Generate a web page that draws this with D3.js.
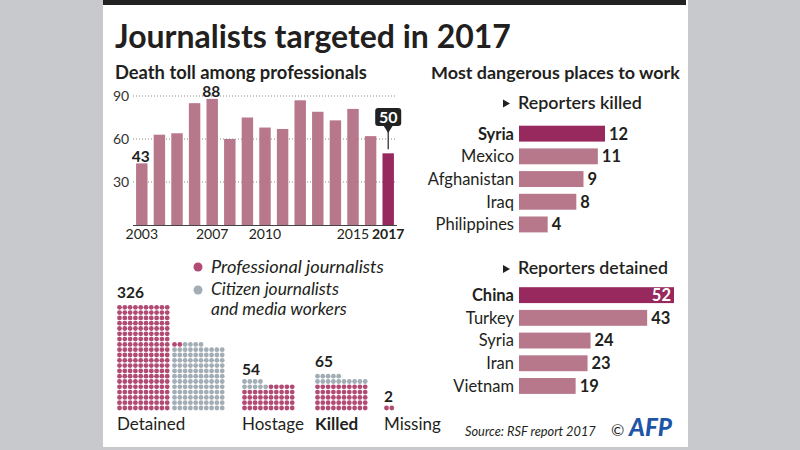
<!DOCTYPE html>
<html><head><meta charset="utf-8">
<script src="https://cdn.jsdelivr.net/npm/d3@7"></script>
<style>
html,body{margin:0;padding:0;background:#c8c9cd;}
svg{display:block;font-family:Lato,"Noto Sans",sans-serif;}
</style></head>
<body>
<svg id="chart" width="800" height="450"></svg>
<script>
// ---------- DATA ----------
const years = [2003,2004,2005,2006,2007,2008,2009,2010,2011,2012,2013,2014,2015,2016,2017];
const deaths = [43,63,64,85,88,60,75,68,67,87,79,73,81,62,50];
const yearTickLabels = [2003,2007,2010,2015,2017];
const deathTicks = [30,60,90];
const labelledYears = [2003,2007];

const killedCountries = ["Syria","Mexico","Afghanistan","Iraq","Philippines"];
const killedValues = [12,11,9,8,4];
const detainedCountries = ["China","Turkey","Syria","Iran","Vietnam"];
const detainedValues = [52,43,24,23,19];

const categories = ["Detained","Hostage","Killed","Missing"];
const professional = [202,45,50,2];
const citizen = [124,9,15,0];
const totals = [326,54,65,2];

// ---------- STYLE ----------
const C_BAR = "#b7788c", C_HI = "#97295e", C_PRO = "#b24b74", C_CIT = "#a2adb5", C_TXT = "#231f20";

const svg = d3.select("#chart");
function fit(sel, w){ const cw = sel.node().getComputedTextLength(); const fs = parseFloat(sel.attr("font-size")); sel.attr("font-size", fs*w/cw); return sel; }

// panel
svg.append("rect").attr("x",103).attr("y",0).attr("width",585).attr("height",447).attr("fill","#fff");
svg.append("rect").attr("x",103).attr("y",0).attr("width",583).attr("height",5).attr("fill","#222");

// titles
fit(svg.append("text").attr("x",115).attr("y",48).attr("font-size",34).attr("font-weight",700).attr("fill",C_TXT).text("Journalists targeted in 2017"),396);
fit(svg.append("text").attr("x",115).attr("y",78.5).attr("font-size",18).attr("font-weight",700).attr("fill",C_TXT).text("Death toll among professionals"),252);
fit(svg.append("text").attr("x",431).attr("y",78.5).attr("font-size",18).attr("font-weight",700).attr("fill",C_TXT).text("Most dangerous places to work"),249);

// ---------- BAR CHART ----------
const x = d3.scaleBand().domain(years).range([133,397]).paddingInner(0.35).paddingOuter(0.175);
const y = d3.scaleLinear().domain([0,90]).range([225,96]);

const grid = svg.append("g");
grid.selectAll("line").data(deathTicks).join("line")
  .attr("x1",133).attr("x2",397).attr("y1",d=>y(d)).attr("y2",d=>y(d))
  .attr("stroke","#8a8a8a").attr("stroke-width",1).attr("stroke-dasharray","1,2");
grid.selectAll("text").data(deathTicks).join("text")
  .attr("x",113).attr("y",d=>y(d)).attr("dy","0.36em").attr("font-size",14).attr("fill","#333").text(d=>d);

svg.append("g").selectAll("rect").data(years).join("rect")
  .attr("x",d=>x(d)).attr("width",x.bandwidth())
  .attr("y",(d,i)=>y(deaths[i])).attr("height",(d,i)=>y(0)-y(deaths[i]))
  .attr("fill",d=>d===2017?C_HI:C_BAR);

svg.append("line").attr("x1",133).attr("x2",397).attr("y1",y(0)+0.5).attr("y2",y(0)+0.5).attr("stroke","#444").attr("stroke-width",1);

svg.append("g").selectAll("text").data(yearTickLabels).join("text")
  .attr("x",d=>x(d)+x.bandwidth()/2).attr("y",239).attr("text-anchor","middle")
  .attr("font-size",14).attr("font-weight",d=>d===2017?700:400).attr("fill",C_TXT).text(d=>d);

svg.append("g").selectAll("text").data(labelledYears).join("text")
  .attr("x",d=>x(d)+x.bandwidth()/2-1).attr("y",d=>y(deaths[years.indexOf(d)])-1.5).attr("text-anchor","middle")
  .attr("font-size",15.5).attr("font-weight",700).attr("fill",C_TXT).text(d=>deaths[years.indexOf(d)]);

// callout for 2017
{
  const last = years.length-1, cx = x(years[last])+x.bandwidth()/2, top = y(deaths[last]);
  const g = svg.append("g");
  g.append("line").attr("x1",cx).attr("x2",cx).attr("y1",118).attr("y2",top-4).attr("stroke","#222").attr("stroke-width",1.2);
  g.append("path").attr("d",`M${cx-5},125 L${cx+5},125 L${cx},133 Z`).attr("fill","#222");
  g.append("rect").attr("x",cx-13).attr("y",108).attr("width",26).attr("height",18).attr("rx",3).attr("fill","#222");
  g.append("text").attr("x",cx).attr("y",122.5).attr("text-anchor","middle").attr("font-size",16).attr("font-weight",700).attr("fill","#fff").text(deaths[last]);
}

// ---------- WAFFLE ----------
const pitch = 5.3, r = 2.4, baseY = 408;
const blockX = [119.5, 244.5, 317.5, 386.5];
function waffle(pro, cit){
  const dots = [];
  const full = Math.floor(pro/10), rem = pro%10;
  for(let i=0;i<full*10;i++) dots.push({col:i%10,row:Math.floor(i/10),t:"p"});
  let c = cit;
  if(rem>0){
    const leftAlign = (full===0 && cit===0);
    for(let k=0;k<rem;k++) dots.push({col:leftAlign?k:9-k,row:full,t:"p"});
    for(let k=0;k<10-rem && c>0;k++,c--) dots.push({col:k,row:full,t:"c"});
  }
  let row = full + (rem>0?1:0), col=0;
  while(c>0){ dots.push({col:col,row:row,t:"c"}); c--; col++; if(col===10){col=0;row++;} }
  return dots;
}
function detainedWaffle(pro, cit){
  // first block: 20 full rows of professionals; second block: the remainder
  const dots = [];
  const first = 200;
  for(let i=0;i<first;i++) dots.push({col:i%10,row:Math.floor(i/10),t:"p",b:0});
  const restPro = pro-first, n = restPro+cit, fullRows = Math.floor((n)/10), rem = n%10;
  for(let i=0;i<fullRows*10;i++) dots.push({col:i%10,row:Math.floor(i/10),t:"c",b:1});
  for(let k=0;k<rem;k++) dots.push({col:k,row:fullRows,t:k<restPro?"p":"c",b:1});
  return dots;
}
const wg = svg.append("g");
categories.forEach((cat,i)=>{
  let dots;
  if(i===0){ dots = detainedWaffle(professional[i],citizen[i]); }
  else { dots = waffle(professional[i],citizen[i]).map(d=>({...d,b:0})); }
  const x0 = i===0 ? [blockX[0],174.5] : [blockX[i]];
  wg.append("g").selectAll("circle").data(dots).join("circle")
    .attr("cx",d=>x0[d.b]+d.col*pitch).attr("cy",d=>baseY-d.row*pitch).attr("r",r)
    .attr("fill",d=>d.t==="p"?C_PRO:C_CIT);
});
const totalY = [298,375,367,402];
svg.append("g").selectAll("text").data(totals).join("text")
  .attr("x",(d,i)=>blockX[i]-2.5).attr("y",(d,i)=>totalY[i]).attr("font-size",15.5).attr("font-weight",700).attr("fill",C_TXT).text(d=>d);
svg.append("g").selectAll("text").data(categories).join("text")
  .attr("x",(d,i)=>blockX[i]-2.5).attr("y",430).attr("font-size",17).attr("font-weight",d=>d==="Killed"?700:400).attr("fill",C_TXT).text(d=>d);

// legend
svg.append("circle").attr("cx",198).attr("cy",267).attr("r",4.5).attr("fill",C_PRO);
svg.append("circle").attr("cx",198).attr("cy",290).attr("r",4.5).attr("fill",C_CIT);
fit(svg.append("text").attr("x",211).attr("y",272.5).attr("font-size",16).attr("font-style","italic").attr("fill",C_TXT).text("Professional journalists"),173);
const lt2 = fit(svg.append("text").attr("x",211).attr("y",295).attr("font-size",16).attr("font-style","italic").attr("fill",C_TXT).text("Citizen journalists"),128);
svg.append("text").attr("x",211).attr("y",314.5).attr("font-size",lt2.attr("font-size")).attr("font-style","italic").attr("fill",C_TXT).text("and media workers");

// ---------- RIGHT PANEL ----------
function hbars(title, titleY, cats, vals, rowY0, maxPx){
  const g = svg.append("g");
  g.append("path").attr("d",`M503,${titleY-9} L510,${titleY-5} L503,${titleY-1} Z`).attr("fill",C_TXT);
  fit(g.append("text").attr("x",518).attr("y",titleY).attr("font-size",17).attr("font-weight",600).attr("fill",C_TXT).text(title), title.length>17?150:124);
  const xs = d3.scaleLinear().domain([0,d3.max(vals)]).range([0,maxPx]);
  const ys = d3.scaleBand().domain(cats).range([rowY0, rowY0+22.7*cats.length]).paddingInner(0.3).paddingOuter(0.15);
  g.selectAll("rect").data(cats).join("rect")
    .attr("x",519).attr("y",d=>ys(d)).attr("height",ys.bandwidth()).attr("width",(d,i)=>xs(vals[i]))
    .attr("fill",(d,i)=>i===0?C_HI:C_BAR);
  g.selectAll("text.lab").data(cats).join("text").attr("class","lab")
    .attr("x",514).attr("y",d=>ys(d)+ys.bandwidth()/2).attr("dy","0.36em").attr("text-anchor","end")
    .attr("font-size",16.5).attr("font-weight",(d,i)=>i===0?700:400).attr("fill",C_TXT).text(d=>d);
  g.selectAll("text.val").data(vals).join("text").attr("class","val")
    .attr("x",(d,i)=> (xs(d)>140 ? 519+xs(d)-3 : 519+xs(d)+4))
    .attr("text-anchor",d=>xs(d)>140?"end":"start")
    .attr("y",(d,i)=>ys(cats[i])+ys.bandwidth()/2).attr("dy","0.36em")
    .attr("font-size",16.5).attr("font-weight",700).attr("fill",d=>xs(d)>140?"#fff":C_TXT).text(d=>d);
}
hbars("Reporters killed", 108.5, killedCountries, killedValues, 122.3, 86);
hbars("Reporters detained", 274, detainedCountries, detainedValues, 283.8, 155);

// source
fit(svg.append("text").attr("x",465).attr("y",436).attr("font-size",14).attr("font-style","italic").attr("fill",C_TXT).text("Source: RSF report 2017"),131);
svg.append("text").attr("x",611).attr("y",436).attr("font-size",16).attr("fill",C_TXT).text("©");
fit(svg.append("text").attr("x",629).attr("y",436).attr("font-size",19).attr("font-weight",900).attr("font-style","italic").attr("fill","#1f55a6").text("AFP"),43);
</script>
</body></html>
